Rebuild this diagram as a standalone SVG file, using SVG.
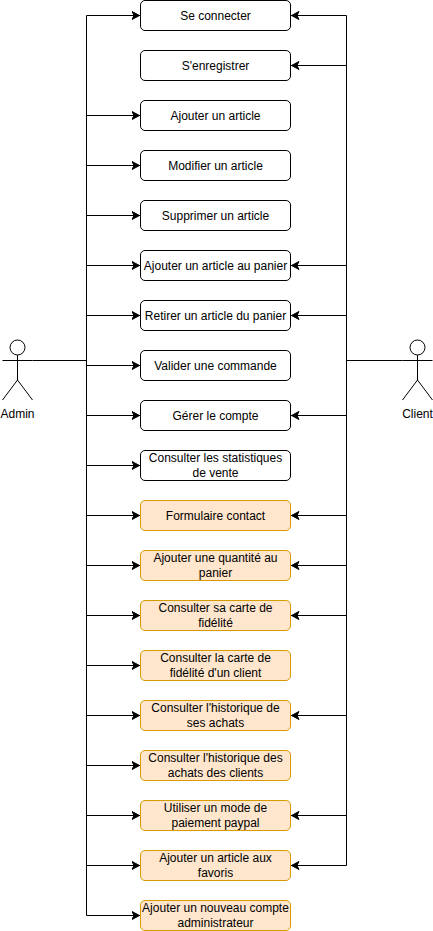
<svg xmlns="http://www.w3.org/2000/svg" width="433" height="931" viewBox="0 0 433 931">
<style>
text{font-family:"Liberation Sans",Arial,sans-serif;font-size:12px;fill:#000;text-anchor:middle}
.u rect{fill:#fff;stroke:#000;stroke-width:1}
.o rect{fill:#ffe6cc;stroke:#d79b00;stroke-width:1}
.a *{fill:none;stroke:#000;stroke-width:1}
.a text{fill:#000;stroke:none}
#connectors path{fill:none;stroke:#000;stroke-width:1}
#connectors path.r{marker-end:url(#arrow)}
</style>
<defs>
<marker id="arrow" markerUnits="userSpaceOnUse" markerWidth="10" markerHeight="10" refX="8.5" refY="5" orient="auto"><path d="M0.5 1 L8 5 L0.5 9 L2.5 5 Z" fill="#000" stroke="#000" stroke-width="1"/></marker>
</defs>
<rect width="433" height="931" fill="#fff"/>
<g id="connectors">
<path d="M32.5 360.5H86.5M86.5 15.5V915.5"/>
<path d="M402.5 360.5H346.5M346.5 15.5V865.5"/>
<path class="r" d="M86.5 15.5H140"/>
<path class="r" d="M86.5 115.5H140"/>
<path class="r" d="M86.5 165.5H140"/>
<path class="r" d="M86.5 215.5H140"/>
<path class="r" d="M86.5 265.5H140"/>
<path class="r" d="M86.5 315.5H140"/>
<path class="r" d="M86.5 365.5H140"/>
<path class="r" d="M86.5 415.5H140"/>
<path class="r" d="M86.5 465.5H140"/>
<path class="r" d="M86.5 515.5H140"/>
<path class="r" d="M86.5 565.5H140"/>
<path class="r" d="M86.5 615.5H140"/>
<path class="r" d="M86.5 665.5H140"/>
<path class="r" d="M86.5 715.5H140"/>
<path class="r" d="M86.5 765.5H140"/>
<path class="r" d="M86.5 815.5H140"/>
<path class="r" d="M86.5 865.5H140"/>
<path class="r" d="M86.5 915.5H140"/>
<path class="r" d="M346.5 15.5H291"/>
<path class="r" d="M346.5 65.5H291"/>
<path class="r" d="M346.5 265.5H291"/>
<path class="r" d="M346.5 315.5H291"/>
<path class="r" d="M346.5 415.5H291"/>
<path class="r" d="M346.5 515.5H291"/>
<path class="r" d="M346.5 565.5H291"/>
<path class="r" d="M346.5 615.5H291"/>
<path class="r" d="M346.5 715.5H291"/>
<path class="r" d="M346.5 815.5H291"/>
<path class="r" d="M346.5 865.5H291"/>
</g>
<g id="admin" class="a"><circle cx="17.5" cy="347.5" r="7.5"/><path d="M17.5 355V380M2.5 360.5H32.5M17.5 380L2.5 400M17.5 380L32.5 400"/><text x="17.5" y="418">Admin</text></g>
<g id="client" class="a"><circle cx="417.5" cy="347.5" r="7.5"/><path d="M417.5 355V380M402.5 360.5H432.5M417.5 380L402.5 400M417.5 380L432.5 400"/><text x="417.5" y="418">Client</text></g>
<g id="n1" class="u"><rect x="140.5" y="0.5" width="150" height="30" rx="4.5"/><text x="215.5" y="19.5">Se connecter</text></g>
<g id="n2" class="u"><rect x="140.5" y="50.5" width="150" height="30" rx="4.5"/><text x="215.5" y="69.5">S'enregistrer</text></g>
<g id="n3" class="u"><rect x="140.5" y="100.5" width="150" height="30" rx="4.5"/><text x="215.5" y="119.5">Ajouter un article</text></g>
<g id="n4" class="u"><rect x="140.5" y="150.5" width="150" height="30" rx="4.5"/><text x="215.5" y="169.5">Modifier un article</text></g>
<g id="n5" class="u"><rect x="140.5" y="200.5" width="150" height="30" rx="4.5"/><text x="215.5" y="219.5">Supprimer un article</text></g>
<g id="n6" class="u"><rect x="140.5" y="250.5" width="150" height="30" rx="4.5"/><text x="215.5" y="269.5">Ajouter un article au panier</text></g>
<g id="n7" class="u"><rect x="140.5" y="300.5" width="150" height="30" rx="4.5"/><text x="215.5" y="319.5">Retirer un article du panier</text></g>
<g id="n8" class="u"><rect x="140.5" y="350.5" width="150" height="30" rx="4.5"/><text x="215.5" y="369.5">Valider une commande</text></g>
<g id="n9" class="u"><rect x="140.5" y="400.5" width="150" height="30" rx="4.5"/><text x="215.5" y="419.5">Gérer le compte</text></g>
<g id="n10" class="u"><rect x="140.5" y="450.5" width="150" height="30" rx="4.5"/><text x="215.5" y="462">Consulter les statistiques</text><text x="215.5" y="477">de vente</text></g>
<g id="n11" class="o"><rect x="140.5" y="500.5" width="150" height="30" rx="4.5"/><text x="215.5" y="519.5">Formulaire contact</text></g>
<g id="n12" class="o"><rect x="140.5" y="550.5" width="150" height="30" rx="4.5"/><text x="215.5" y="562">Ajouter une quantité au</text><text x="215.5" y="577">panier</text></g>
<g id="n13" class="o"><rect x="140.5" y="600.5" width="150" height="30" rx="4.5"/><text x="215.5" y="612">Consulter sa carte de</text><text x="215.5" y="627">fidélité</text></g>
<g id="n14" class="o"><rect x="140.5" y="650.5" width="150" height="30" rx="4.5"/><text x="215.5" y="662">Consulter la carte de</text><text x="215.5" y="677">fidélité d'un client</text></g>
<g id="n15" class="o"><rect x="140.5" y="700.5" width="150" height="30" rx="4.5"/><text x="215.5" y="712">Consulter l'historique de</text><text x="215.5" y="727">ses achats</text></g>
<g id="n16" class="o"><rect x="140.5" y="750.5" width="150" height="30" rx="4.5"/><text x="215.5" y="762">Consulter l'historique des</text><text x="215.5" y="777">achats des clients</text></g>
<g id="n17" class="o"><rect x="140.5" y="800.5" width="150" height="30" rx="4.5"/><text x="215.5" y="812">Utiliser un mode de</text><text x="215.5" y="827">paiement paypal</text></g>
<g id="n18" class="o"><rect x="140.5" y="850.5" width="150" height="30" rx="4.5"/><text x="215.5" y="862">Ajouter un article aux</text><text x="215.5" y="877">favoris</text></g>
<g id="n19" class="o"><rect x="140.5" y="900.5" width="150" height="30" rx="4.5"/><text x="215.5" y="912">Ajouter un nouveau compte</text><text x="215.5" y="927">administrateur</text></g>
</svg>
